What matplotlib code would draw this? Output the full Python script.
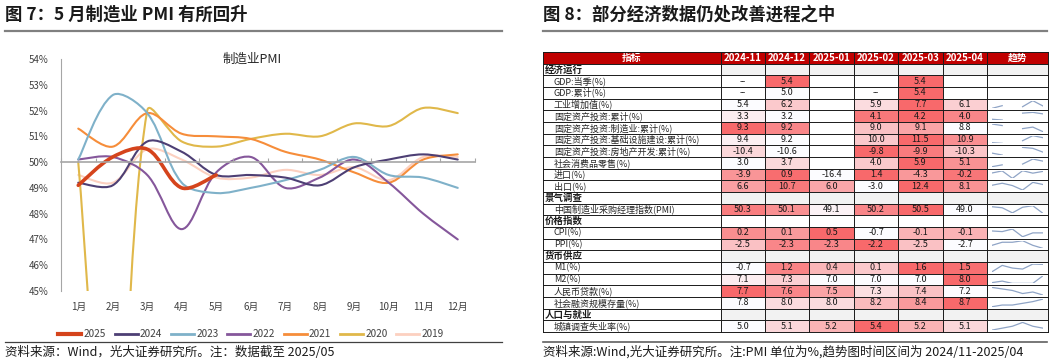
import numpy as np
import matplotlib
matplotlib.use("Agg")
import matplotlib.pyplot as plt
from matplotlib.path import Path
from matplotlib.patches import PathPatch, Rectangle
from matplotlib.lines import Line2D
from matplotlib.colors import to_rgb

plt.rcParams['font.family'] = ['Noto Sans CJK SC', 'DejaVu Sans']

# --- Left chart data: manufacturing PMI by year ---
months = [f"{i}月" for i in range(1, 13)]
pmi_2025 = [49.1, 50.2, 50.5, 49.0, 49.5]
pmi_2024 = [49.2, 49.1, 50.8, 50.4, 49.5, 49.5, 49.4, 49.1, 49.8, 50.1, 50.3, 50.1]
pmi_2023 = [50.1, 52.6, 51.9, 49.2, 48.8, 49.0, 49.3, 49.7, 50.2, 49.5, 49.4, 49.0]
pmi_2022 = [50.1, 50.2, 49.5, 47.4, 49.6, 50.2, 49.0, 49.4, 50.1, 49.2, 48.0, 47.0]
pmi_2021 = [51.3, 50.6, 51.9, 51.1, 51.0, 50.9, 50.4, 50.1, 49.6, 49.2, 50.1, 50.3]
pmi_2020 = [50.0, 35.7, 52.0, 50.8, 50.6, 50.9, 51.1, 51.0, 51.5, 51.4, 52.1, 51.9]
pmi_2019 = [49.5, 49.2, 50.5, 50.1, 49.4, 49.4, 49.7, 49.5, 49.8, 49.3, 50.2, 50.2]

series = [("2025", pmi_2025, "#d5441c", 2.6),
          ("2024", pmi_2024, "#4d3f74", 1.5),
          ("2023", pmi_2023, "#7fb1c9", 1.5),
          ("2022", pmi_2022, "#85579b", 1.5),
          ("2021", pmi_2021, "#f68d3a", 1.5),
          ("2020", pmi_2020, "#e0b84a", 1.5),
          ("2019", pmi_2019, "#fcd0c0", 1.5)]

# --- Right table data ---
col_headers = ["指标", "2024-11", "2024-12", "2025-01", "2025-02", "2025-03", "2025-04", "趋势"]
row_labels = ["经济运行", "GDP:当季(%)", "GDP:累计(%)", "工业增加值(%)", "固定资产投资:累计(%)",
              "固定资产投资:制造业:累计(%)", "固定资产投资:基础设施建设:累计(%)",
              "固定资产投资:房地产开发:累计(%)", "社会消费品零售(%)", "进口(%)", "出口(%)",
              "景气调查", "中国制造业采购经理指数(PMI)", "价格指数", "CPI(%)", "PPI(%)",
              "货币供应", "M1(%)", "M2(%)", "人民币贷款(%)", "社会融资规模存量(%)",
              "人口与就业", "城镇调查失业率(%)"]
section_rows = ["经济运行", "景气调查", "价格指数", "货币供应", "人口与就业"]
grey_sections = ["经济运行", "景气调查", "货币供应", "人口与就业"]
cell_text = [
    None,
    ["--", "5.4", "", "", "5.4", ""],
    ["--", "5.0", "", "--", "5.4", ""],
    ["5.4", "6.2", "", "5.9", "7.7", "6.1"],
    ["3.3", "3.2", "", "4.1", "4.2", "4.0"],
    ["9.3", "9.2", "", "9.0", "9.1", "8.8"],
    ["9.4", "9.2", "", "10.0", "11.5", "10.9"],
    ["-10.4", "-10.6", "", "-9.8", "-9.9", "-10.3"],
    ["3.0", "3.7", "", "4.0", "5.9", "5.1"],
    ["-3.9", "0.9", "-16.4", "1.4", "-4.3", "-0.2"],
    ["6.6", "10.7", "6.0", "-3.0", "12.4", "8.1"],
    None,
    ["50.3", "50.1", "49.1", "50.2", "50.5", "49.0"],
    None,
    ["0.2", "0.1", "0.5", "-0.7", "-0.1", "-0.1"],
    ["-2.5", "-2.3", "-2.3", "-2.2", "-2.5", "-2.7"],
    None,
    ["-0.7", "1.2", "0.4", "0.1", "1.6", "1.5"],
    ["7.1", "7.3", "7.0", "7.0", "7.0", "8.0"],
    ["7.7", "7.6", "7.5", "7.3", "7.4", "7.2"],
    ["7.8", "8.0", "8.0", "8.2", "8.4", "8.7"],
    None,
    ["5.0", "5.1", "5.2", "5.4", "5.2", "5.1"],
]

W, H = 1054, 364
fig = plt.figure(figsize=(W / 100, H / 100), dpi=100)

# canvas in pixel coordinates for titles, rules and the table
cv = fig.add_axes([0, 0, 1, 1])
cv.set_xlim(0, W)
cv.set_ylim(H, 0)
cv.axis("off")

title_kw = dict(fontsize=12.5, fontweight="bold", color="#1a1a1a", va="center", ha="left")
cv.text(5, 15, "图 7：5 月制造业 PMI 有所回升", **title_kw)
cv.text(543, 15, "图 8：部分经济数据仍处改善进程之中", **title_kw)
cv.plot([5, 502], [30.5, 30.5], color="#808080", lw=1.6)
cv.plot([543, 1047], [30.5, 30.5], color="#808080", lw=1.6)
cv.plot([5, 502], [342, 342], color="#404040", lw=0.9)
cv.plot([543, 1047], [342, 342], color="#606060", lw=1.2)
cv.text(5, 352, "资料来源：Wind，光大证券研究所。注：数据截至 2025/05",
        fontsize=9, color="#1a1a1a", va="center", ha="left")
cv.text(543, 352, "资料来源:Wind,光大证券研究所。注:PMI 单位为%,趋势图时间区间为 2024/11-2025/04",
        fontsize=9, color="#1a1a1a", va="center", ha="left")
cv.text(252, 59, "制造业PMI", fontsize=9, color="#262626", ha="center", va="center")

# pixel size of one data unit, used so smoothing behaves like Excel's on screen
SX, SY = 34.5, 25.8


def smooth_path(xs, ys):
    pts = np.column_stack([xs, ys]).astype(float)
    n = len(pts)
    scr = pts * [SX, SY]
    verts = [pts[0]]
    codes = [Path.MOVETO]

    def ctrl(i, forward):
        prev = pts[max(i - 1, 0)]
        nxt = pts[min(i + 1, n - 1)]
        tan = nxt - prev
        if i == 0 or i == n - 1:
            k = 1 / 6
        else:
            d_prev = np.hypot(*(scr[i] - scr[i - 1]))
            d_next = np.hypot(*(scr[i + 1] - scr[i]))
            k = (d_next if forward else d_prev) / (d_prev + d_next) / 3
        return pts[i] + tan * k if forward else pts[i] - tan * k

    for i in range(n - 1):
        verts += [ctrl(i, True), ctrl(i + 1, False), pts[i + 1]]
        codes += [Path.CURVE4] * 3
    return Path(verts, codes)


# --- Left line chart ---
ax = fig.add_axes([61 / W, (H - 291) / H, 414 / W, 232 / H])
ax.patch.set_alpha(0)
for name, vals, color, lw in reversed(series):
    xs = np.arange(len(vals))
    ax.add_patch(PathPatch(smooth_path(xs, vals), facecolor="none", edgecolor=color,
                           lw=lw, capstyle="round", joinstyle="round"))
ax.set_xlim(-0.5, 11.5)
ax.set_ylim(45, 54)
ax.set_yticks(np.arange(45, 55))
ax.set_yticklabels([f"{v}%" for v in range(45, 55)])
ax.tick_params(axis="y", length=0, pad=9, labelsize=7, labelcolor="#404040")
for s in ["top", "right"]:
    ax.spines[s].set_visible(False)
ax.spines["left"].set_color("#a6a6a6")
ax.spines["bottom"].set_position(("data", 50))
ax.spines["bottom"].set_color("#a6a6a6")
ax.spines["bottom"].set_linewidth(1.2)
ax.set_xticks(np.arange(-0.5, 12, 1))
ax.set_xticklabels([])
ax.tick_params(axis="x", direction="in", length=3, color="#a6a6a6")
for i, m in enumerate(months):
    ax.text(i, -0.07, m, transform=ax.get_xaxis_transform(), ha="center", va="center",
            fontsize=7, color="#404040")

handles = [Line2D([], [], color=c, lw=(3 if n == "2025" else 2)) for n, v, c, l in series]
fig.legend(handles, [s[0] for s in series], loc="center", bbox_to_anchor=(251 / W, (H - 334) / H),
           ncol=7, frameon=False, fontsize=7.2, handlelength=2.3, handletextpad=0.2,
           columnspacing=0.9, labelcolor="#404040")

# --- Right table ---
col_edges = [543, 721, 765, 809, 854, 898, 943, 987, 1048]
row_top = 52
row_h = 11.67
c_min = np.array(to_rgb("#FCFCFF"))
c_max = np.array(to_rgb("#F8696B"))
n_rows = len(row_labels) + 1
bottom = row_top + n_rows * row_h

# header
cv.add_patch(Rectangle((col_edges[0], row_top), col_edges[-1] - col_edges[0], row_h,
                       facecolor="#c00000", edgecolor="none"))
for j, h in enumerate(col_headers):
    cv.text((col_edges[j] + col_edges[j + 1]) / 2, row_top + row_h / 2, h, color="white",
            fontsize=7, fontweight="bold", ha="center", va="center")

for i, label in enumerate(row_labels):
    y0 = row_top + (i + 1) * row_h
    yc = y0 + row_h / 2
    texts = cell_text[i]
    if texts is None:
        if label in grey_sections:
            cv.add_patch(Rectangle((col_edges[1], y0), col_edges[-1] - col_edges[1], row_h,
                                   facecolor="#f2f2f2", edgecolor="none"))
        cv.text(col_edges[0] + 2, yc, label, fontsize=6.8, fontweight="bold",
                color="#1a1a1a", ha="left", va="center")
        continue
    cv.text(col_edges[0] + 11, yc, label, fontsize=6.5, color="#262626", ha="left", va="center")
    nums = []
    for t in texts:
        try:
            nums.append(float(t))
        except ValueError:
            nums.append(np.nan)
    nums = np.array(nums)
    lo, hi = np.nanmin(nums), np.nanmax(nums)
    for j, t in enumerate(texts):
        x0 = col_edges[j + 1]
        if not np.isnan(nums[j]):
            f = 1.0 if hi == lo else (nums[j] - lo) / (hi - lo)
            cv.add_patch(Rectangle((x0, y0), col_edges[j + 2] - x0, row_h,
                                   facecolor=c_min + (c_max - c_min) * f, edgecolor="none"))
        if t:
            cv.text((x0 + col_edges[j + 2]) / 2, yc, t, fontsize=6.5, color="#1a1a1a",
                    ha="center", va="center")
    # sparkline
    if np.any(~np.isnan(nums[:-1]) & ~np.isnan(nums[1:])):
        sx0, sx1 = col_edges[-2] + 5, col_edges[-1] - 5
        sp = fig.add_axes([sx0 / W, (H - (y0 + row_h - 2)) / H, (sx1 - sx0) / W, (row_h - 4) / H])
        sp.plot(np.arange(6), nums, color="#8fa4c6", lw=0.9)
        sp.set_xlim(0, 5)
        sp.set_ylim(lo, hi)
        sp.axis("off")

# grid lines
for k in range(n_rows + 1):
    yy = row_top + k * row_h
    cv.plot([col_edges[0], col_edges[-1]], [yy, yy], color="#1a1a1a", lw=0.7)
for x in col_edges:
    cv.plot([x, x], [row_top, bottom], color="#1a1a1a", lw=0.7)

fig.savefig("out.png", dpi=100)
